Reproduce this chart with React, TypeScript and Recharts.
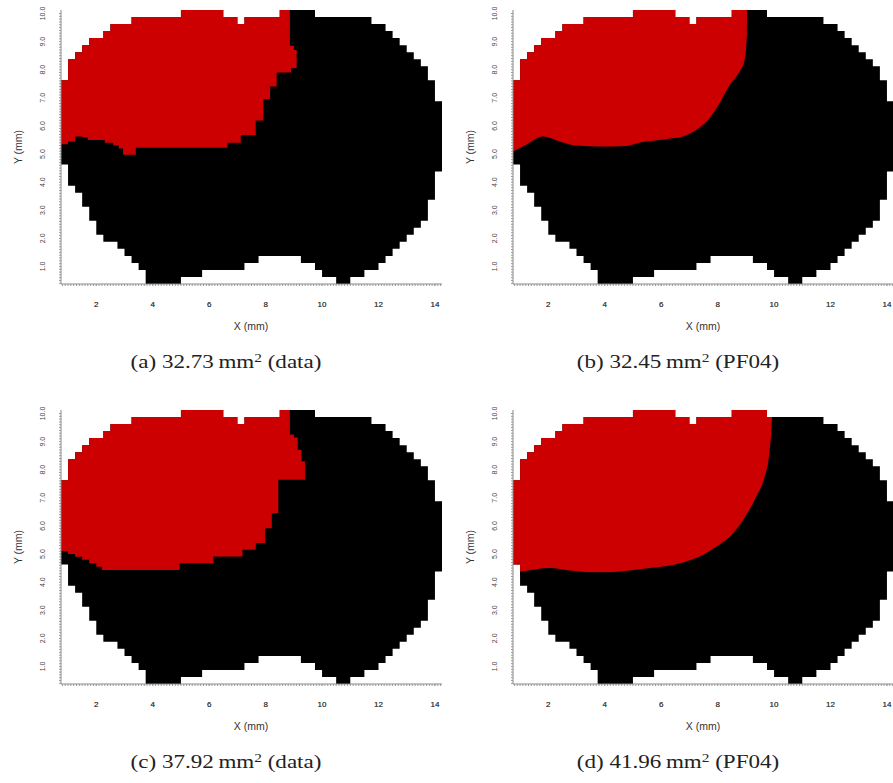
import React from "react";
import { ComposedChart, Area, XAxis, YAxis } from "recharts";

// mask grid: 0.25 mm columns starting at x = 0.75
const colX = Array.from({ length: 55 }, (_, i) => 0.75 + i * 0.25);

// top / bottom edge of the slice mask for each column (mm)
const colTop = [
  7.625, 8.375, 8.625, 8.875, 9.125, 9.125, 9.375, 9.625, 9.625, 9.625,
  9.875, 9.875, 9.875, 9.875, 9.875, 9.875, 9.875, 10.125, 10.125, 10.125,
  10.125, 10.125, 10.125, 9.875, 9.875, 9.625, 9.875, 9.875, 9.875, 9.875,
  9.875, 10.125, 10.125, 10.125, 10.125, 10.125, 9.875, 9.875, 9.875, 9.875,
  9.875, 9.875, 9.875, 9.875, 9.625, 9.625, 9.375, 9.125, 8.875, 8.625,
  8.375, 8.125, 7.625, 6.875,
];
const colBottom = [
  4.625, 3.875, 3.625, 3.125, 2.625, 2.125, 1.875, 1.875, 1.625, 1.375,
  1.125, 0.875, 0.375, 0.375, 0.375, 0.375, 0.375, 0.625, 0.625, 0.625,
  0.875, 0.875, 0.875, 0.875, 0.875, 0.875, 1.125, 1.125, 1.375, 1.375,
  1.375, 1.375, 1.375, 1.375, 1.125, 1.125, 0.875, 0.625, 0.625, 0.375,
  0.375, 0.625, 0.625, 0.875, 0.875, 1.125, 1.375, 1.625, 1.875, 2.125,
  2.375, 2.625, 3.375, 4.375,
];

// (a) data: lower edge of red region (step starts) and clipped top-right corner
const redLoXA = [0.75, 1.0, 1.25, 1.5, 1.7, 2.3, 2.6, 2.8, 2.95, 3.4, 6.65, 7.12, 7.65, 7.92, 8.16, 8.39, 8.9];
const redLoYA = [5.35, 5.45, 5.62, 5.6, 5.5, 5.4, 5.3, 5.2, 4.97, 5.22, 5.4, 5.68, 6.19, 6.95, 7.4, 7.9, 8.06];
const capXA = [0.75, 8.86, 9.0];
const capYA = [99, 8.85, 8.7];
const redEndA = 9.1;

// (c) data
const redLoXC = [0.75, 1.0, 1.25, 1.5, 1.75, 2.0, 2.2, 4.95, 6.15, 7.18, 7.65, 7.98, 8.22, 8.45];
const redLoYC = [5.1, 5.0, 4.9, 4.8, 4.67, 4.55, 4.43, 4.67, 4.91, 5.15, 5.39, 5.92, 6.45, 7.64];
const capXC = [0.75, 8.86, 9.0, 9.14, 9.27];
const capYC = [99, 9.25, 9.15, 8.7, 8.3];
const redEndC = 9.4;

// (b) PF04 boundary curve
const curveXB = [0.75, 1.22, 1.81, 2.4, 2.99, 3.82, 4.77, 5.24, 6.18, 6.77, 7.25, 7.72, 8.07, 8.43, 8.78, 8.96, 9.04, 9.05, 9.12];
const curveYB = [5.09, 5.33, 5.62, 5.45, 5.3, 5.27, 5.29, 5.41, 5.53, 5.62, 5.86, 6.28, 6.81, 7.46, 7.94, 8.35, 9.31, 10.125, 10.125];
const redEndB = 9.05;

// (d) PF04 boundary curve
const curveXD = [1.0, 1.58, 2.05, 2.76, 3.47, 4.18, 4.88, 5.59, 6.3, 6.89, 7.36, 7.96, 8.55, 9.02, 9.37, 9.67, 9.82, 9.9, 9.94, 9.99];
const curveYD = [4.37, 4.46, 4.5, 4.41, 4.35, 4.35, 4.41, 4.5, 4.59, 4.73, 4.91, 5.27, 5.74, 6.4, 7.05, 7.76, 8.47, 9.31, 9.875, 9.875];
const redEndD = 9.94;

const xTicks = [2, 4, 6, 8, 10, 12, 14];
const yTicks = [1, 2, 3, 4, 5, 6, 7, 8, 9, 10];

const RED = "#cc0000";

function stepVal(xs: number[], ys: number[], x: number) {
  let v = ys[0];
  for (let i = 0; i < xs.length; i++) if (xs[i] <= x + 1e-9) v = ys[i];
  return v;
}

function rangeRows(x0: number, x1: number, lo: (x: number) => number, hi: (x: number) => number, breaks: number[]) {
  const xs = Array.from(new Set([x0, ...breaks.filter((b) => b > x0 + 1e-9 && b < x1 - 1e-9)])).sort((a, b) => a - b);
  const rows = xs.map((x) => ({ x, v: [lo(x), hi(x)] }));
  rows.push({ x: x1, v: [lo(x1 - 1e-6), hi(x1 - 1e-6)] });
  return rows;
}

const topAt = (x: number) => stepVal(colX.slice(0, 54), colTop, x);
const bottomAt = (x: number) => stepVal(colX.slice(0, 54), colBottom, x);

const maskRows = rangeRows(0.75, 14.25, bottomAt, topAt, colX);

function redRows(loX: number[], loY: number[], capX: number[], capY: number[], end: number) {
  return rangeRows(
    0.75,
    end,
    (x) => stepVal(loX, loY, x),
    (x) => Math.min(topAt(x), stepVal(capX, capY, x)),
    [...colX, ...loX, ...capX]
  );
}

const curveRows = (xs: number[], ys: number[], base: number) => xs.map((x, i) => ({ x, v: [base, ys[i]] }));

const minorX = Array.from({ length: 135 }, (_, i) => +(0.8 + i * 0.1).toFixed(1));
const minorY = Array.from({ length: 97 }, (_, i) => +(0.4 + i * 0.1).toFixed(1));

const XTick = (props: any) => {
  const { x, y, payload } = props;
  if (!xTicks.includes(payload.value)) return null;
  return (
    <text x={x} y={y + 18} textAnchor="middle" dominantBaseline="central" fontSize={8} fill="#444" fontFamily="Liberation Sans, Arial, sans-serif">
      {payload.value}
    </text>
  );
};

const YTick = (props: any) => {
  const { x, y, payload } = props;
  if (!yTicks.includes(payload.value)) return null;
  const tx = x - 16;
  return (
    <text x={tx} y={y} transform={`rotate(-90 ${tx} ${y})`} textAnchor="middle" dominantBaseline="central" fontSize={7} fill="#444" fontFamily="Liberation Sans, Arial, sans-serif">
      {payload.value.toFixed(1)}
    </text>
  );
};

type PanelProps = {
  left: number;
  top: number;
  red: any[];
  overlay?: any[];
  label: string;
  area: string;
  source: string;
};

function Panel({ left, top, red, overlay, label, area, source }: PanelProps) {
  return (
    <div style={{ position: "absolute", left, top, width: 460, height: 400 }}>
      <ComposedChart width={460} height={320} margin={{ top: 10, right: 18, bottom: 0, left: 16 }}>
        <XAxis
          type="number"
          dataKey="x"
          domain={[0.75, 14.25]}
          allowDataOverflow
          ticks={[...minorX, ...xTicks].sort((a, b) => a - b)}
          interval={0}
          height={36}
          tickSize={2}
          tickMargin={0}
          axisLine={{ stroke: "#888" }}
          tickLine={{ stroke: "#999" }}
          tick={<XTick />}
        />
        <YAxis
          type="number"
          domain={[0.375, 10.125]}
          allowDataOverflow
          ticks={minorY}
          interval={0}
          width={45}
          tickSize={2}
          tickMargin={0}
          axisLine={{ stroke: "#888" }}
          tickLine={{ stroke: "#999" }}
          tick={<YTick />}
        />
        <Area data={maskRows} dataKey="v" type="stepAfter" fill="#000" fillOpacity={1} stroke="none" dot={false} activeDot={false} isAnimationActive={false} />
        <Area data={red} dataKey="v" type="stepAfter" fill={RED} fillOpacity={1} stroke="none" dot={false} activeDot={false} isAnimationActive={false} />
        {overlay && (
          <Area data={overlay} dataKey="v" type="monotone" fill="#000" fillOpacity={1} stroke="none" dot={false} activeDot={false} isAnimationActive={false} />
        )}
      </ComposedChart>
      <div style={{ position: "absolute", left: 251, top: 326, transform: "translate(-50%, -50%)", fontSize: 10.5, color: "#333", fontFamily: "Liberation Sans, Arial, sans-serif", whiteSpace: "nowrap" }}>
        X (mm)
      </div>
      <div style={{ position: "absolute", left: 18, top: 147, transform: "translate(-50%, -50%) rotate(-90deg)", fontSize: 10.5, color: "#333", fontFamily: "Liberation Sans, Arial, sans-serif", whiteSpace: "nowrap" }}>
        Y (mm)
      </div>
      <div style={{ position: "absolute", left: 226, top: 362, transform: "translate(-50%, -50%) scaleX(1.28)", fontSize: 18, color: "#222", fontFamily: "Liberation Serif, Times, serif", whiteSpace: "nowrap" }}>
        ({label}) {area}&thinsp;mm<sup style={{ fontSize: 12, verticalAlign: "6px" }}>2</sup>&nbsp;({source})
      </div>
    </div>
  );
}

export default function App() {
  const redA = redRows(redLoXA, redLoYA, capXA, capYA, redEndA);
  const redC = redRows(redLoXC, redLoYC, capXC, capYC, redEndC);
  const redB = redRows([0.75], [5.05], [0.75], [99], redEndB);
  const redD = redRows([0.75, 1.0], [4.625, 4.33], [0.75], [99], redEndD);
  return (
    <div style={{ position: "fixed", left: 0, top: 0, width: 893, height: 783, overflow: "hidden", background: "#fff" }}>
      <Panel left={0} top={0} red={redA} label="a" area="32.73" source="data" />
      <Panel left={452} top={0} red={redB} overlay={curveRows(curveXB, curveYB, 5.0)} label="b" area="32.45" source="PF04" />
      <Panel left={0} top={400} red={redC} label="c" area="37.92" source="data" />
      <Panel left={452} top={400} red={redD} overlay={curveRows(curveXD, curveYD, 4.25)} label="d" area="41.96" source="PF04" />
    </div>
  );
}
